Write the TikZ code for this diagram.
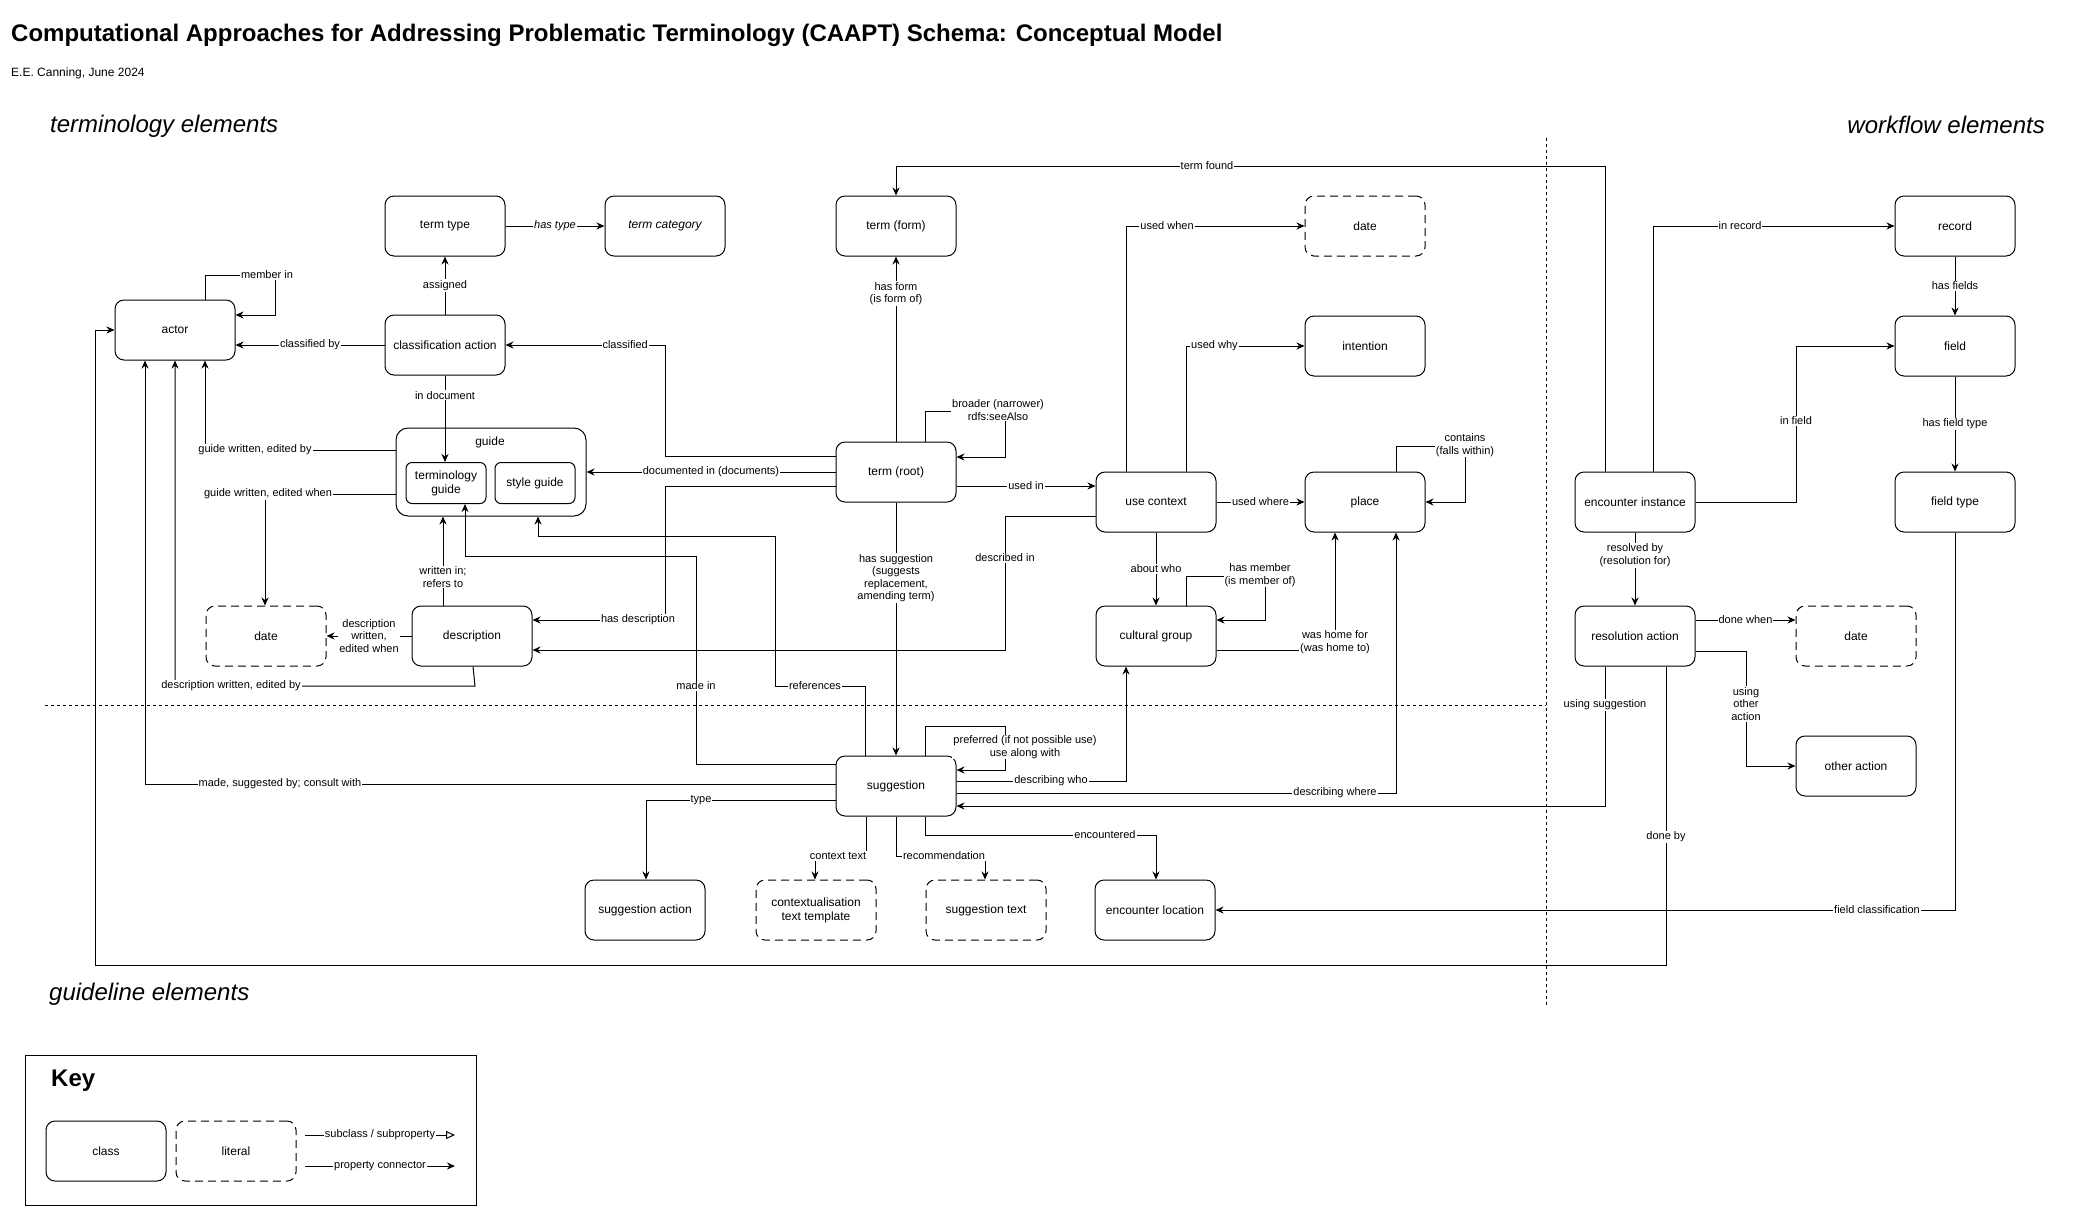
\documentclass[tikz,border=0pt]{standalone}
\usepackage{fontspec}
\setmainfont{Liberation Sans}
\usetikzlibrary{arrows.meta}
\begin{document}
\begin{tikzpicture}[x=1pt,y=-1pt,
  cls/.style={draw, line width=1pt, rounded corners=9pt, minimum width=120pt, minimum height=60pt, inner sep=0pt, align=center, font=\fontsize{12}{14}\selectfont},
  lit/.style={cls, dash pattern=on 8pt off 5pt},
  inner/.style={draw, line width=1pt, rounded corners=6pt, minimum width=80pt, minimum height=41pt, inner sep=0pt, align=center, font=\fontsize{12}{14}\selectfont},
  lbl/.style={fill=white, inner sep=1pt, align=center, font=\fontsize{11}{12.5}\selectfont},
  arr/.style={line width=1pt, -{Stealth[length=8pt,width=7pt]}},
  ln/.style={line width=1pt},
  sep/.style={line width=1pt, dash pattern=on 3pt off 3pt},
  big/.style={font=\fontsize{24}{28}\selectfont, inner sep=0pt},
]
\useasboundingbox (0,0) rectangle (2084,1211);
\fill[white] (0,0) rectangle (2084,1211);

% titles
\node[big, anchor=west, font=\fontsize{24}{28}\selectfont\bfseries] (title) at (11,35) {Computational Approaches for Addressing Problematic Terminology (CAAPT) Schema: Conceptual Model};
\node[anchor=west, inner sep=0pt, font=\fontsize{12}{14}\selectfont] (subtitle) at (11,73) {E.E. Canning, June 2024};
\node[big, anchor=west, font=\fontsize{24}{28}\selectfont\itshape] (termel) at (50,126) {terminology elements};
\node[big, anchor=east, font=\fontsize{24}{28}\selectfont\itshape] (workel) at (2045,125) {workflow elements};
\node[big, anchor=west, font=\fontsize{24}{28}\selectfont\itshape] (guideel) at (49,994) {guideline elements};

% separators
\coordinate (hs1) at (45,705);
\coordinate (hs2) at (1546,705);
\coordinate (vs1) at (1546,138);
\coordinate (vs2) at (1546,1005);
\draw[sep] (hs1) -- (hs2);
\draw[sep] (vs1) -- (vs2);

% nodes
\node[cls] (termtype) at (445,226) {term type};
\node[cls] (termcat) at (665,226) {\itshape term category};
\node[cls] (actor) at (175,330) {actor};
\node[cls] (classact) at (445,345) {classification action};
\node[cls] (termform) at (896,226) {term (form)};
\node[lit] (date1) at (1365,226) {date};
\node[cls] (intention) at (1365,346) {intention};
\node[cls] (termroot) at (896,472) {term (root)};
\node[cls] (usecontext) at (1156,502) {use context};
\node[cls] (place) at (1365,502) {place};
\node[draw, line width=1pt, rounded corners=12pt, minimum width=190pt, minimum height=88pt, inner sep=0pt] (guide) at (491,472) {};
\node[inner sep=0pt, font=\fontsize{12}{14}\selectfont] (guidelbl) at (490,442) {guide};
\node[inner] (termguide) at (446,483) {terminology\\guide};
\node[inner] (styleguide) at (535,483) {style guide};
\node[lit] (date2) at (266,636) {date};
\node[cls] (description) at (472,636) {description};
\node[cls] (culturalgroup) at (1156,636) {cultural group};
\node[cls] (suggestion) at (896,786) {suggestion};
\node[cls] (suggaction) at (645,910) {suggestion action};
\node[lit] (ctxtemplate) at (816,910) {contextualisation\\text template};
\node[lit] (suggtext) at (986,910) {suggestion text};
\node[cls] (encloc) at (1155,910) {encounter location};
\node[cls] (record) at (1955,226) {record};
\node[cls] (field) at (1955,346) {field};
\node[cls] (fieldtype) at (1955,502) {field type};
\node[cls] (encinst) at (1635,502) {encounter instance};
\node[cls] (resact) at (1635,636) {resolution action};
\node[lit] (date3) at (1856,636) {date};
\node[cls] (otheraction) at (1856,766) {other action};

% connectors
\draw[arr] (termtype) -- node[lbl]{\itshape has type} (termcat);
\draw[arr] (classact) -- node[lbl]{assigned} (termtype);
\draw[arr] (classact.west) -- node[lbl]{classified by} (actor.east |- classact.west);
\draw[arr] (actor.north -| 205,0) -- (205,275) -- (275,275) -- (275,315) -- (actor.east |- 0,315);
\node[lbl] (lmember) at (267,275) {member in};
\draw[arr] (classact.south) -- node[lbl, pos=0.23]{in document} (classact.south |- termguide.north);
\draw[arr] (termroot.west |- 0,456) -- (665,456) -- (665,345) -- node[lbl, pos=0.25]{classified} (classact.east);
\draw[arr] (termroot.west |- 0,472) -- node[lbl]{documented in (documents)} (guide.east |- 0,472);
\draw[arr] (termroot.west |- 0,486) -- (665,486) -- (665,620) -- (description.east |- 0,620);
\node[lbl] (lhasdesc) at (638,620) {has description};
\draw[arr] (termroot.east |- 0,486) -- node[lbl]{used in} (usecontext.west |- 0,486);
\draw[arr] (termroot) -- node[lbl, pos=0.8]{has form\\(is form of)} (termform);
\draw[arr] (termroot.north -| 925,0) -- (925,411) -- (1005,411) -- (1005,457) -- (termroot.east |- 0,457);
\node[lbl] (lbroader) at (998,410) {broader (narrower)\\rdfs:seeAlso};
\draw[arr] (encinst.north -| 1605,0) -- (1605,166) -- (896,166) -- (termform.north);
\node[lbl] (ltermfound) at (1207,166) {term found};
\draw[arr] (usecontext.north -| 1126,0) -- (1126,226) -- node[lbl, pos=0.23]{used when} (date1.west);
\draw[arr] (usecontext.north -| 1186,0) -- (1186,346) -- node[lbl, pos=0.24]{used why} (intention.west);
\draw[arr] (usecontext) -- node[lbl]{used where} (place);
\draw[arr] (place.north -| 1396,0) -- (1396,446) -- (1465,446) -- (1465,502) -- (place.east);
\node[lbl] (lcontains) at (1465,445) {contains\\(falls within)};
\draw[arr] (usecontext) -- node[lbl]{about who} (culturalgroup);
\draw[arr] (culturalgroup.north -| 1186,0) -- (1186,576) -- (1265,576) -- (1265,620) -- (culturalgroup.east |- 0,620);
\node[lbl] (lmember2) at (1260,575) {has member\\(is member of)};
\draw[arr] (culturalgroup.east |- 0,650) -- (1335,650) -- (place.south -| 1335,0);
\node[lbl] (lhome) at (1335,642) {was home for\\(was home to)};
\draw[arr] (usecontext.west |- 0,516) -- (1005,516) -- (1005,650) -- (description.east |- 0,650);
\node[lbl] (ldescin) at (1005,558) {described in};
\draw[arr] (termroot) -- (suggestion);
\node[lbl] (lhassugg) at (896,578) {has suggestion\\(suggests\\replacement,\\amending term)};
\draw[arr] (suggestion.north -| 865,0) -- (865,686) -- (775,686) -- (775,536) -- (538,536) -- (guide.south -| 538,0);
\node[lbl] (lrefs) at (815,686) {references};
\draw[arr] (suggestion.west |- 0,764) -- (696,764) -- (696,556) -- (465,556) -- (termguide.south -| 465,0);
\node[lbl] (lmadein) at (696,686) {made in};
\draw[arr] (suggestion.north -| 925,0) -- (925,726) -- (1005,726) -- (1005,770) -- (suggestion.east |- 0,770);
\node[lbl] (lpref) at (1025,747) {preferred (if not possible use)\\use along with};
\draw[arr] (suggestion.east |- 0,781) -- (1126,781) -- (culturalgroup.south -| 1126,0);
\node[lbl] (ldescwho) at (1051,781) {describing who};
\draw[arr] (suggestion.east |- 0,793) -- (1396,793) -- (place.south -| 1396,0);
\node[lbl] (ldescwhere) at (1335,793) {describing where};
\draw[arr] (resact.south -| 1605,0) -- (1605,806) -- (suggestion.east |- 0,806);
\node[lbl] (lusingsugg) at (1605,705) {using suggestion};
\draw[arr] (suggestion.south -| 925,0) -- (925,835) -- (1156,835) -- (encloc.north -| 1156,0);
\node[lbl] (lenc) at (1105,835) {encountered};
\draw[arr] (suggestion.south -| 866,0) -- (866,856) -- (815,856) -- (ctxtemplate.north -| 815,0);
\node[lbl] (lctx) at (838,856) {context text};
\draw[arr] (suggestion.south -| 896,0) -- (896,856) -- (985,856) -- (suggtext.north -| 985,0);
\node[lbl] (lrec) at (944,856) {recommendation};
\draw[arr] (suggestion.west |- 0,800) -- (646,800) -- (suggaction.north -| 646,0);
\node[lbl] (ltype) at (701,800) {type};
\draw[arr] (suggestion.west |- 0,784) -- (145,784) -- (actor.south -| 145,0);
\node[lbl] (lmadeby) at (280,784) {made, suggested by; consult with};
\draw[arr] (guide.west |- 0,450) -- (205,450) -- (actor.south -| 205,0);
\node[lbl] (lgwby) at (255,450) {guide written, edited by};
\draw[arr] (guide.west |- 0,494) -- (265,494) -- (date2.north -| 265,0);
\node[lbl] (lgwwhen) at (268,494) {guide written, edited when};
\draw[arr] (description.west) -- node[lbl]{description\\written,\\edited when} (date2.east);
\draw[arr] (description.south -| 473,0) -- (475,686) -- (175,686) -- (actor.south -| 175,0);
\node[lbl] (ldwby) at (231,686) {description written, edited by};
\draw[arr] (description.north -| 443,0) -- (guide.south -| 443,0);
\node[lbl] (lwritten) at (443,577) {written in;\\refers to};
\draw[arr] (resact.south -| 1666,0) -- (1666,965) -- (95,965) -- (95,330) -- (actor.west);
\node[lbl] (ldoneby) at (1666,837) {done by};
\draw[arr] (encinst.north -| 1653,0) -- (1653,226) -- (record.west);
\node[lbl] (linrec) at (1740,226) {in record};
\draw[arr] (record) -- node[lbl]{has fields} (field);
\draw[arr] (encinst.east) -- (1796,502) -- (1796,346) -- (field.west);
\node[lbl] (linfield) at (1796,421) {in field};
\draw[arr] (field) -- node[lbl]{has field type} (fieldtype);
\draw[arr] (fieldtype.south) -- (1955,910) -- (encloc.east);
\node[lbl] (lfieldcl) at (1877,910) {field classification};
\draw[arr] (encinst) -- node[lbl, pos=0.31]{resolved by\\(resolution for)} (resact);
\draw[arr] (resact.east |- 0,620) -- node[lbl]{done when} (date3.west |- 0,620);
\draw[arr] (resact.east |- 0,651) -- (1746,651) -- (1746,766) -- (otheraction.west);
\node[lbl] (lother) at (1746,704) {using\\other\\action};

% key
\node[draw, line width=1pt, minimum width=451pt, minimum height=150pt, inner sep=0pt] (keybox) at (250.5,1130) {};
\node[anchor=west, inner sep=0pt, font=\fontsize{24}{28}\selectfont\bfseries] (keytitle) at (51,1081) {Key};
\node[cls] (kclass) at (106,1151) {class};
\node[lit] (kliteral) at (236,1151) {literal};
\coordinate (ks1) at (305,1135);
\coordinate (ke1) at (455,1135);
\coordinate (ks2) at (305,1166);
\coordinate (ke2) at (455,1166);
\draw[line width=1pt, -{Triangle[open,length=9pt,width=8pt]}] (ks1) -- node[lbl]{subclass / subproperty} (ke1);
\draw[arr] (ks2) -- node[lbl]{property connector} (ke2);
\end{tikzpicture}
\end{document}
